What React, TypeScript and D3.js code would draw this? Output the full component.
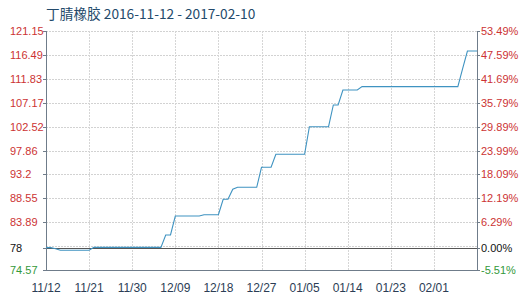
import React from "react";
import * as d3 from "d3";

const title = "丁腈橡胶 2016-11-12 - 2017-02-10";
const startDate = "2016-11-12";
// daily prices, 2016-11-12 .. 2017-02-10
const prices = [
  78.93, 78.93, 78.7, 78.43, 78.43, 78.43, 78.43, 78.43, 78.43, 78.43,
  78.98, 78.98, 78.98, 78.98, 78.98, 78.98, 78.98, 78.98, 78.98, 78.98,
  78.98, 78.98, 78.98, 78.98, 78.98, 81.39, 81.39, 85.09, 85.09, 85.09,
  85.09, 85.09, 85.09, 85.35, 85.35, 85.35, 85.35, 88.35, 88.35, 90.3,
  90.69, 90.69, 90.69, 90.69, 90.69, 94.59, 94.59, 94.59, 97.12, 97.12,
  97.12, 97.12, 97.12, 97.12, 97.12, 102.5, 102.5, 102.5, 102.5, 102.5,
  106.73, 106.73, 109.65, 109.65, 109.65, 109.65, 110.3, 110.3, 110.3, 110.3,
  110.3, 110.3, 110.3, 110.3, 110.3, 110.3, 110.3, 110.3, 110.3, 110.3,
  110.3, 110.3, 110.3, 110.3, 110.3, 110.3, 110.3, 113.8, 117.25, 117.25,
  117.25,
];
const baseValue = 78.93;
const gridValues = [74.57, 79.23, 83.89, 88.55, 93.2, 97.86, 102.52, 107.17, 111.83, 116.49, 121.15];
const leftTickValues = [121.15, 116.49, 111.83, 107.17, 102.52, 97.86, 93.2, 88.55, 83.89, 78.93, 74.57];
const leftTickLabels = ["121.15", "116.49", "111.83", "107.17", "102.52", "97.86", "93.2", "88.55", "83.89", "78", "74.57"];
const rightTickLabels = ["53.49%", "47.59%", "41.69%", "35.79%", "29.89%", "23.99%", "18.09%", "12.19%", "6.29%", "0.00%", "-5.51%"];
const xTickLabels = ["11/12", "11/21", "11/30", "12/09", "12/18", "12/27", "01/05", "01/14", "01/23", "02/01"];
const xTickDates = ["2016-11-12", "2016-11-21", "2016-11-30", "2016-12-09", "2016-12-18", "2016-12-27", "2017-01-05", "2017-01-14", "2017-01-23", "2017-02-01"];

const W = 527, H = 303;
const L = 46, R = 477, T = 31, B = 270;

export default function App() {
  const parse = d3.utcParse("%Y-%m-%d");
  const start = parse(startDate)!;
  const dates = prices.map((_, i) => d3.utcDay.offset(start, i));
  const x = d3.scaleUtc().domain([start, dates[dates.length - 1]]).range([L, R]);
  const y = d3.scaleLinear().domain([74.57, 121.15]).range([B, T]);
  const line = d3.line<number>().x((_, i) => x(dates[i])).y((d) => y(d));
  const colorFor = (v: number) => (Math.abs(v - baseValue) < 0.01 ? "#111" : v > baseValue ? "#cc3333" : "#33993a");
  const tickFont = "'Liberation Sans', Arial, sans-serif";

  return (
    <div style={{ position: "fixed", left: 0, top: 0, width: W, height: H, background: "#fff" }}>
      <svg width={W} height={H} style={{ display: "block" }}>
        <rect x={0} y={0} width={W} height={H} fill="#fff" />
        <text x={46} y={19} fontFamily="'Noto Sans CJK SC', sans-serif" fontSize={13.7} fill="#234a6b">
          {title}
        </text>
        {/* horizontal grid */}
        {gridValues.map((v) => (
          <line key={"h" + v} x1={L} x2={R} y1={Math.round(y(v)) + 0.5} y2={Math.round(y(v)) + 0.5}
            stroke="#d2d2d2" strokeDasharray="2,1" />
        ))}
        {/* vertical grid */}
        {xTickDates.slice(1).map((d) => {
          const xx = Math.round(x(parse(d)!)) + 0.5;
          return <line key={"v" + d} x1={xx} x2={xx} y1={T} y2={B} stroke="#d6d6d6" strokeDasharray="2,1" />;
        })}
        {/* base line */}
        <line x1={L} x2={R} y1={Math.round(y(baseValue)) + 0.5} y2={Math.round(y(baseValue)) + 0.5} stroke="#555" />
        {/* axes */}
        <line x1={L + 0.5} x2={L + 0.5} y1={T} y2={B + 1} stroke="#6f7c8a" />
        <line x1={R + 0.5} x2={R + 0.5} y1={T} y2={B + 1} stroke="#6f7c8a" />
        <line x1={L} x2={R + 1} y1={B + 0.5} y2={B + 0.5} stroke="#6f7c8a" />
        {leftTickValues.map((v) => (
          <g key={"t" + v}>
            <line x1={L - 3} x2={L} y1={Math.round(y(v)) + 0.5} y2={Math.round(y(v)) + 0.5} stroke="#6f7c8a" />
            <line x1={R} x2={R + 3} y1={Math.round(y(v)) + 0.5} y2={Math.round(y(v)) + 0.5} stroke="#6f7c8a" />
          </g>
        ))}
        {/* data line */}
        <path d={line(prices) || ""} fill="none" stroke="#3f93c1" strokeWidth={1.1} />
        {/* left labels */}
        {leftTickValues.map((v, i) => (
          <text key={"l" + v} x={10} y={y(v) + 4} fontFamily={tickFont} fontSize={11} fill={colorFor(v)}>
            {leftTickLabels[i]}
          </text>
        ))}
        {leftTickValues.map((v, i) => (
          <text key={"r" + v} x={481} y={y(v) + 4} fontFamily={tickFont} fontSize={11} fill={colorFor(v)}>
            {rightTickLabels[i]}
          </text>
        ))}
        {xTickDates.map((d, i) => (
          <text key={"x" + d} x={x(parse(d)!)} y={292} textAnchor="middle" fontFamily={tickFont} fontSize={12} fill="#2b3d55">
            {xTickLabels[i]}
          </text>
        ))}
      </svg>
    </div>
  );
}
